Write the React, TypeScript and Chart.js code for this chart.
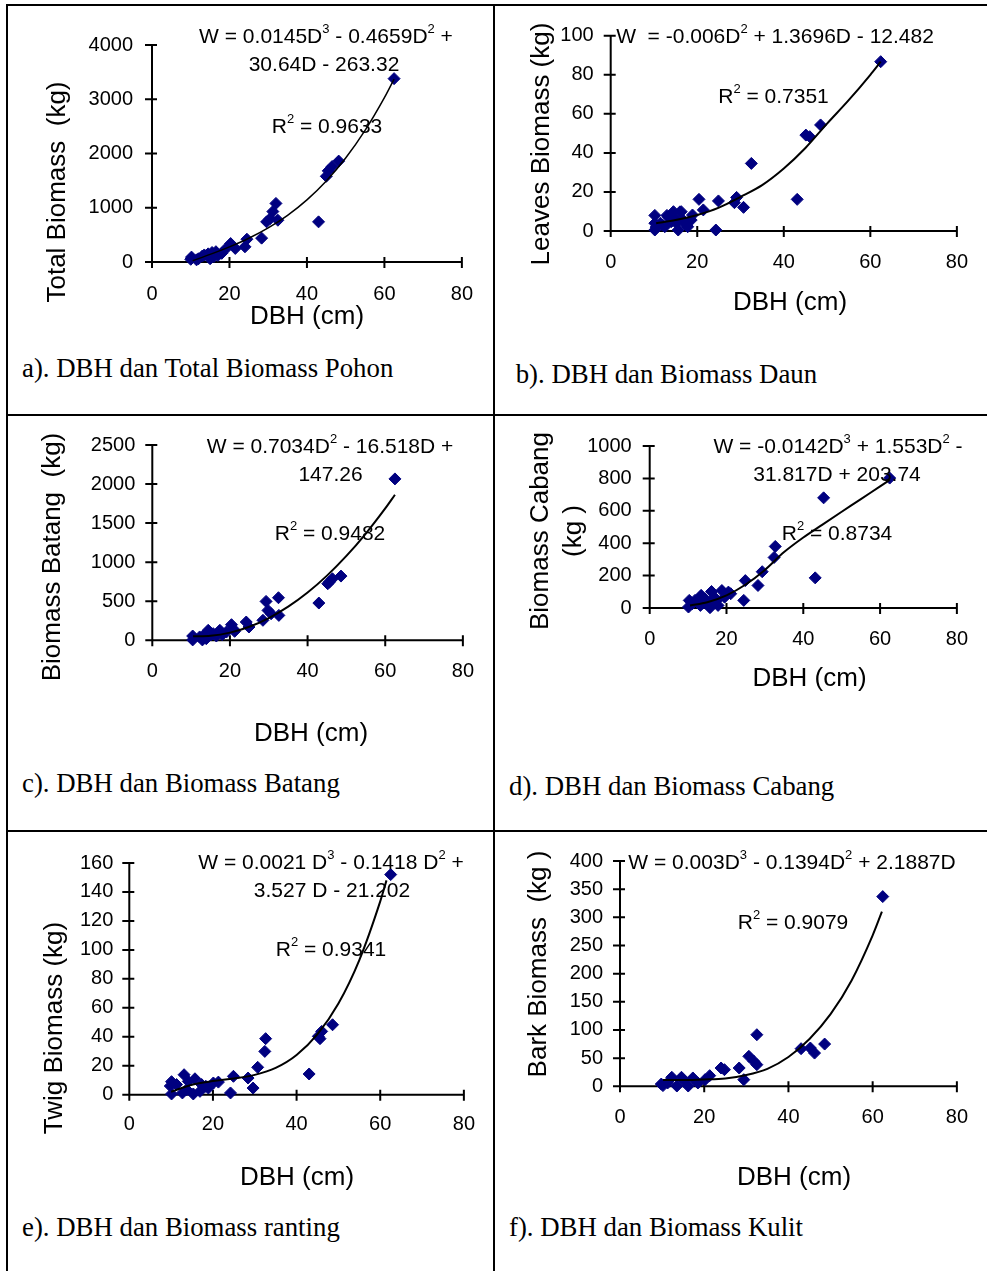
import React, { useEffect, useRef } from "react";
import { Chart, registerables } from "chart.js";

Chart.register(...registerables);

const SANS = '"Liberation Sans", Arial, Helvetica, sans-serif';
const SERIF = '"Liberation Serif", "Times New Roman", Times, serif';

// ---------------- data ----------------
const xTicks = [0, 20, 40, 60, 80];

// a) total biomass
const aDbh = [10, 10.2, 11.5, 12, 13, 13.5, 14.5, 15, 15.5, 16, 16.5, 17, 18, 19, 20.3, 21.5, 24, 24.5, 28.3, 29.6, 30.5, 31.2, 32, 32.5, 43, 45, 45.5, 46.5, 48.2, 62.5];
const aTotal = [50, 90, 40, 60, 110, 130, 150, 60, 175, 100, 190, 120, 160, 240, 340, 250, 280, 420, 440, 740, 800, 930, 1080, 770, 740, 1580, 1680, 1760, 1860, 3380];
const aFitDbh = [10.5, 15, 20, 25, 30, 35, 40, 45, 50, 55, 60, 62.5];
const aFitW = [24, 140, 279, 438, 628, 860, 1145, 1493, 1916, 2425, 3030, 3372];
const aYTicks = [0, 1000, 2000, 3000, 4000];

// b) leaves
const bDbh = [10.2, 10.2, 10.2, 10.5, 11.5, 12, 12.5, 13, 13.4, 14, 14.5, 15, 15.2, 15.6, 16, 16.3, 16.7, 17.5, 17.8, 18.6, 18.9, 20.4, 21.4, 24.3, 24.9, 28.6, 29.1, 30.7, 32.5, 43.1, 45.1, 46, 48.5, 62.4];
const bLeaves = [8, 0.5, 4, 2, 4, 3, 2.2, 8, 7, 4.8, 9.9, 6, 4, 0.5, 9.8, 9.9, 5.6, 3, 2.2, 5.6, 8.2, 16.2, 10.8, 0.5, 15.4, 14.5, 17.2, 12.1, 34.6, 16.2, 49.1, 48.3, 54.3, 86.7];
const bFitDbh = [10.5, 15, 20, 25, 30, 35, 40, 45, 50, 55, 60, 62.4];
const bFitW = [4, 5.6, 8.2, 12, 17.5, 23.5, 32, 42.5, 55, 67, 80, 86.7];
const bYTicks = [0, 20, 40, 60, 80, 100];

// c) stem
const cDbh = [10.4, 10.4, 12.2, 12.9, 13.1, 13.9, 14.4, 15.2, 15.7, 16.5, 17.4, 18, 19.1, 20.4, 20.8, 21.2, 24.2, 24.9, 28.5, 29.3, 29.8, 30.6, 32.5, 32.6, 42.9, 45.2, 45.6, 46.4, 48.6, 62.5];
const cStem = [55, 5, 43, 5, 55, 21, 128, 72, 85, 55, 128, 72, 106, 200, 149, 115, 234, 170, 256, 498, 383, 340, 545, 319, 477, 724, 745, 788, 822, 2066];
const cFitDbh = [10.5, 15, 20, 25, 30, 35, 40, 45, 50, 55, 60, 62.5];
const cFitW = [51, 58, 98, 174, 285, 431, 612, 828, 1080, 1367, 1688, 1863];
const cYTicks = [0, 500, 1000, 1500, 2000, 2500];

// d) branch
const dDbh = [10.1, 10.3, 11.1, 11.8, 13.2, 13.4, 14.4, 15.3, 15.7, 16.1, 16.8, 17.4, 17.8, 18.8, 19.5, 20.5, 21.1, 24.5, 24.9, 28.2, 29.3, 32.4, 32.7, 43.1, 45.3, 62.5];
const dBranch = [6, 47, 27, 47, 16, 78, 57, 27, 2, 102, 67, 47, 16, 108, 67, 98, 88, 47, 169, 139, 224, 312, 380, 186, 680, 802];
const dFitDbh = [10.5, 15, 20, 25, 30, 35, 40, 45, 50, 55, 60, 62.5];
const dFitW = [15, 35, 78, 145, 235, 345, 435, 515, 594, 672, 751, 790];
const dYTicks = [0, 200, 400, 600, 800, 1000];

// e) twig
const eDbh = [9.8, 10.1, 10.1, 11.3, 12.7, 13.1, 13.7, 14.1, 15.3, 15.7, 16.9, 17.3, 18.3, 18.9, 20.1, 21.3, 24.2, 24.9, 28.4, 29.6, 30.7, 32.4, 32.6, 43, 45.2, 45.6, 46, 48.6, 62.5];
const eTwig = [6, 9, 0.5, 7, 1.2, 13.8, 3.5, 9.2, 0.5, 11, 2.3, 7, 5.8, 4.6, 8.1, 8.7, 1.2, 12.7, 11.5, 4.6, 18.9, 29.9, 38.7, 14.3, 40.3, 38.7, 43.7, 48.3, 152];
const eFitDbh = [10, 15, 20, 25, 30, 35, 40, 45, 50, 55, 60, 61.5];
const eFitW = [2, 6.9, 9.4, 11.2, 13.7, 18.5, 27.4, 41.8, 63, 93, 133.5, 148];
const eYTicks = [0, 20, 40, 60, 80, 100, 120, 140, 160];

// f) bark
const fDbh = [9.8, 10.2, 11.3, 12.3, 13.5, 14.6, 15.2, 16.2, 17.3, 18.5, 20.2, 21.3, 24, 24.8, 28.3, 29.4, 30.6, 31.8, 32.5, 32.5, 43, 45.2, 46.2, 48.6, 62.4];
const fBark = [4, 1.2, 5.9, 16, 0.5, 16, 10, 0.5, 14.8, 5.9, 11.8, 18.9, 32.5, 29.5, 32.5, 11.8, 53.2, 44.3, 38.4, 91.6, 66.8, 68, 59, 75, 336.8];
const fFitDbh = [10.2, 15, 20, 25, 30, 35, 40, 45, 50, 55, 60, 62.2];
const fFitW = [11, 11, 12, 14, 20, 31, 52, 84, 128, 188, 268, 310];
const fYTicks = [0, 50, 100, 150, 200, 250, 300, 350, 400];

// ---------------- layout ----------------
type Box = { left: number; top: number; width: number; height: number };
type Area = { left: number; right: number; top: number; bottom: number };
type Txt = { t: string; x: number; y: number };

interface PanelCfg {
  box: Box;
  area: Area;
  yTicks: number[];
  dbh: number[];
  w: number[];
  fitDbh: number[];
  fitW: number[];
  fitWidth: number;
  yTitles: Txt[];
  xTitle: Txt;
  notes: Txt[];
  caption: { t: string; left: number; top: number };
  yPad: number;
  xPad: number;
}

const Y_W = 100;
const X_H = 50;

const PANELS: PanelCfg[] = [
  {
    box: { left: 8, top: 6, width: 485, height: 340 },
    area: { left: 152, right: 463, top: 45, bottom: 262 },
    yTicks: aYTicks, dbh: aDbh, w: aTotal, fitDbh: aFitDbh, fitW: aFitW, fitWidth: 1.5,
    yTitles: [{ t: "Total Biomass  (kg)", x: 58, y: 192 }],
    xTitle: { t: "DBH (cm)", x: 307, y: 317 },
    notes: [
      { t: "W = 0.0145D^3 - 0.4659D^2 +", x: 326, y: 37 },
      { t: "30.64D - 263.32", x: 324, y: 65 },
      { t: "R^2 = 0.9633", x: 327, y: 127 },
    ],
    caption: { t: "a). DBH dan Total Biomass Pohon", left: 22, top: 355 },
    yPad: 19, xPad: 20,
  },
  {
    box: { left: 495, top: 6, width: 492, height: 340 },
    area: { left: 610.7, right: 970, top: 35.7, bottom: 231 },
    yTicks: bYTicks, dbh: bDbh, w: bLeaves, fitDbh: bFitDbh, fitW: bFitW, fitWidth: 2,
    yTitles: [{ t: "Leaves Biomass (kg)", x: 542, y: 144 }],
    xTitle: { t: "DBH (cm)", x: 790, y: 303 },
    notes: [
      { t: "W  = -0.006D^2 + 1.3696D - 12.482", x: 775, y: 37 },
      { t: "R^2 = 0.7351", x: 773.5, y: 97 },
    ],
    caption: { t: "b). DBH dan Biomass Daun", left: 515.7, top: 361 },
    yPad: 17, xPad: 19,
  },
  {
    box: { left: 8, top: 416, width: 485, height: 340 },
    area: { left: 152.3, right: 464, top: 444.7, bottom: 640.3 },
    yTicks: cYTicks, dbh: cDbh, w: cStem, fitDbh: cFitDbh, fitW: cFitW, fitWidth: 2,
    yTitles: [{ t: "Biomass Batang  (kg)", x: 53, y: 557 }],
    xTitle: { t: "DBH (cm)", x: 311, y: 734 },
    notes: [
      { t: "W = 0.7034D^2 - 16.518D +", x: 330, y: 447 },
      { t: "147.26", x: 330.5, y: 475 },
      { t: "R^2 = 0.9482", x: 330, y: 534 },
    ],
    caption: { t: "c). DBH dan Biomass Batang", left: 22, top: 770 },
    yPad: 17, xPad: 19,
  },
  {
    box: { left: 495, top: 416, width: 492, height: 340 },
    area: { left: 649.7, right: 969, top: 444.7, bottom: 608 },
    yTicks: dYTicks, dbh: dDbh, w: dBranch, fitDbh: dFitDbh, fitW: dFitW, fitWidth: 2,
    yTitles: [
      { t: "Biomass Cabang", x: 541, y: 531 },
      { t: "(kg )", x: 574, y: 531 },
    ],
    xTitle: { t: "DBH (cm)", x: 809.5, y: 679 },
    notes: [
      { t: "W = -0.0142D^3 + 1.553D^2 -", x: 838, y: 447 },
      { t: "31.817D + 203.74", x: 837, y: 475 },
      { t: "R^2 = 0.8734", x: 837, y: 534 },
    ],
    caption: { t: "d). DBH dan Biomass Cabang", left: 509, top: 773 },
    yPad: 18, xPad: 19,
  },
  {
    box: { left: 8, top: 832, width: 485, height: 370 },
    area: { left: 129.3, right: 464, top: 863, bottom: 1094.7 },
    yTicks: eYTicks, dbh: eDbh, w: eTwig, fitDbh: eFitDbh, fitW: eFitW, fitWidth: 2,
    yTitles: [{ t: "Twig Biomass (kg)", x: 55, y: 1028 }],
    xTitle: { t: "DBH (cm)", x: 297, y: 1178 },
    notes: [
      { t: "W = 0.0021 D^3 - 0.1418 D^2 +", x: 331, y: 863 },
      { t: "3.527 D - 21.202", x: 332, y: 891 },
      { t: "R^2 = 0.9341", x: 331, y: 950 },
    ],
    caption: { t: "e). DBH dan Biomass ranting", left: 22, top: 1214 },
    yPad: 16, xPad: 18,
  },
  {
    box: { left: 495, top: 832, width: 492, height: 370 },
    area: { left: 620, right: 966, top: 860.7, bottom: 1086.3 },
    yTicks: fYTicks, dbh: fDbh, w: fBark, fitDbh: fFitDbh, fitW: fFitW, fitWidth: 2,
    yTitles: [{ t: "Bark Biomass  (kg )", x: 539, y: 964 }],
    xTitle: { t: "DBH (cm)", x: 794, y: 1178 },
    notes: [
      { t: "W = 0.003D^3 - 0.1394D^2 + 2.1887D", x: 792, y: 863 },
      { t: "R^2 = 0.9079", x: 793, y: 923 },
    ],
    caption: { t: "f). DBH dan Biomass Kulit", left: 509, top: 1214 },
    yPad: 17, xPad: 19,
  },
];

// ---------------- drawing helpers ----------------
function splitSup(s: string) {
  const out: { t: string; sup: boolean }[] = [];
  let buf = "";
  for (let i = 0; i < s.length; i++) {
    if (s[i] === "^" && i + 1 < s.length) {
      if (buf) out.push({ t: buf, sup: false });
      buf = "";
      out.push({ t: s[i + 1], sup: true });
      i++;
    } else buf += s[i];
  }
  if (buf) out.push({ t: buf, sup: false });
  return out;
}

function drawRich(ctx: CanvasRenderingContext2D, s: string, cx: number, cy: number, size: number) {
  const parts = splitSup(s);
  const fN = `${size}px ${SANS}`;
  const fS = `${Math.round(size * 0.62)}px ${SANS}`;
  let w = 0;
  for (const p of parts) {
    ctx.font = p.sup ? fS : fN;
    w += ctx.measureText(p.t).width;
  }
  let x = cx - w / 2;
  ctx.textAlign = "left";
  ctx.textBaseline = "middle";
  for (const p of parts) {
    ctx.font = p.sup ? fS : fN;
    ctx.fillText(p.t, x, p.sup ? cy - size * 0.36 : cy);
    x += ctx.measureText(p.t).width;
  }
}

function Panel({ cfg }: { cfg: PanelCfg }) {
  const ref = useRef<HTMLCanvasElement>(null);
  useEffect(() => {
    const canvas = ref.current;
    if (!canvas) return;
    const ox = cfg.box.left;
    const oy = cfg.box.top;
    const yMax = cfg.yTicks[cfg.yTicks.length - 1];

    const deco = {
      id: "deco",
      beforeDatasetsDraw(chart: any) {
        const ctx: CanvasRenderingContext2D = chart.ctx;
        const xs = chart.scales.x;
        const ys = chart.scales.y;
        const x0 = xs.getPixelForValue(0);
        const x1 = xs.getPixelForValue(80);
        const y0 = ys.getPixelForValue(0);
        const y1 = ys.getPixelForValue(yMax);
        ctx.save();
        ctx.strokeStyle = "#000";
        ctx.lineWidth = 2;
        ctx.beginPath();
        ctx.moveTo(x0, y1 - 1);
        ctx.lineTo(x0, y0 + 1);
        ctx.moveTo(x0 - 1, y0);
        ctx.lineTo(x1 + 1, y0);
        for (const v of cfg.yTicks) {
          const p = ys.getPixelForValue(v);
          ctx.moveTo(x0 - 7, p);
          ctx.lineTo(x0 + 5, p);
        }
        for (const v of xTicks) {
          const p = xs.getPixelForValue(v);
          ctx.moveTo(p, y0 - 5);
          ctx.lineTo(p, y0 + 6);
        }
        ctx.stroke();
        ctx.restore();
      },
      afterDraw(chart: any) {
        const ctx: CanvasRenderingContext2D = chart.ctx;
        ctx.save();
        ctx.fillStyle = "#000";
        for (const n of cfg.notes) drawRich(ctx, n.t, n.x - ox, n.y - oy, 21);
        ctx.font = `26px ${SANS}`;
        ctx.textAlign = "center";
        ctx.textBaseline = "middle";
        ctx.fillText(cfg.xTitle.t, cfg.xTitle.x - ox, cfg.xTitle.y - oy);
        for (const t of cfg.yTitles) {
          ctx.save();
          ctx.translate(t.x - ox, t.y - oy);
          ctx.rotate(-Math.PI / 2);
          ctx.fillText(t.t, 0, 0);
          ctx.restore();
        }
        ctx.restore();
      },
    };

    const padLeft = cfg.area.left - ox - Y_W;
    const padRight = ox + cfg.box.width - cfg.area.right;
    const padTop = cfg.area.top - oy;
    const padBottom = oy + cfg.box.height - cfg.area.bottom - X_H;

    const tickFont = { size: 20, family: SANS };

    const chart = new Chart(canvas, {
      type: "scatter",
      data: {
        datasets: [
          {
            data: cfg.fitDbh.map((x, i) => ({ x, y: cfg.fitW[i] })),
            showLine: true,
            borderColor: "#000",
            backgroundColor: "#000",
            borderWidth: cfg.fitWidth,
            pointRadius: 0,
            cubicInterpolationMode: "monotone",
            order: 0,
            clip: false,
          } as any,
          {
            data: cfg.dbh.map((x, i) => ({ x, y: cfg.w[i] })),
            pointStyle: "rectRot",
            pointRadius: 6,
            backgroundColor: "#000080",
            borderColor: "#000080",
            borderWidth: 1,
            order: 1,
            clip: false,
          } as any,
        ],
      },
      options: {
        responsive: false,
        animation: false,
        devicePixelRatio: 1,
        events: [],
        layout: { padding: { left: padLeft, right: padRight, top: padTop, bottom: padBottom } },
        plugins: { legend: { display: false }, tooltip: { enabled: false }, title: { display: false } },
        scales: {
          x: {
            type: "linear",
            min: 0,
            max: 80,
            afterFit: (s: any) => { s.height = X_H; },
            afterBuildTicks: (s: any) => { s.ticks = xTicks.map((v) => ({ value: v })); },
            grid: { display: false, drawTicks: false },
            border: { display: false },
            ticks: {
              padding: cfg.xPad,
              color: "#000",
              font: tickFont,
              maxRotation: 0,
              autoSkip: false,
              callback: (v: any) => String(v),
            },
          },
          y: {
            type: "linear",
            min: 0,
            max: yMax,
            afterFit: (s: any) => { s.width = Y_W; },
            afterBuildTicks: (s: any) => { s.ticks = cfg.yTicks.map((v) => ({ value: v })); },
            grid: { display: false, drawTicks: false },
            border: { display: false },
            ticks: {
              padding: cfg.yPad,
              color: "#000",
              font: tickFont,
              autoSkip: false,
              callback: (v: any) => String(v),
            },
          },
        },
      } as any,
      plugins: [deco],
    });
    return () => chart.destroy();
  }, [cfg]);

  return (
    <canvas
      ref={ref}
      width={cfg.box.width}
      height={cfg.box.height}
      style={{
        position: "absolute",
        left: cfg.box.left,
        top: cfg.box.top,
        width: cfg.box.width,
        height: cfg.box.height,
      }}
    />
  );
}

const lineStyle = (left: number, top: number, width: number, height: number): React.CSSProperties => ({
  position: "absolute",
  left,
  top,
  width,
  height,
  background: "#000",
});

export default function App() {
  return (
    <div
      style={{
        position: "absolute",
        left: 0,
        top: 0,
        width: 987,
        height: 1271,
        overflow: "hidden",
        background: "#fff",
      }}
    >
      <div style={lineStyle(6, 4, 981, 2)} />
      <div style={lineStyle(6, 4, 2, 1267)} />
      <div style={lineStyle(493, 4, 2, 1267)} />
      <div style={lineStyle(6, 414, 981, 2)} />
      <div style={lineStyle(6, 830, 981, 2)} />
      {PANELS.map((p, i) => (
        <React.Fragment key={i}>
          <Panel cfg={p} />
          <div
            style={{
              position: "absolute",
              left: p.caption.left,
              top: p.caption.top,
              fontFamily: SERIF,
              fontSize: 26.8,
              lineHeight: "26px",
              whiteSpace: "nowrap",
              color: "#000",
            }}
          >
            {p.caption.t}
          </div>
        </React.Fragment>
      ))}
    </div>
  );
}
